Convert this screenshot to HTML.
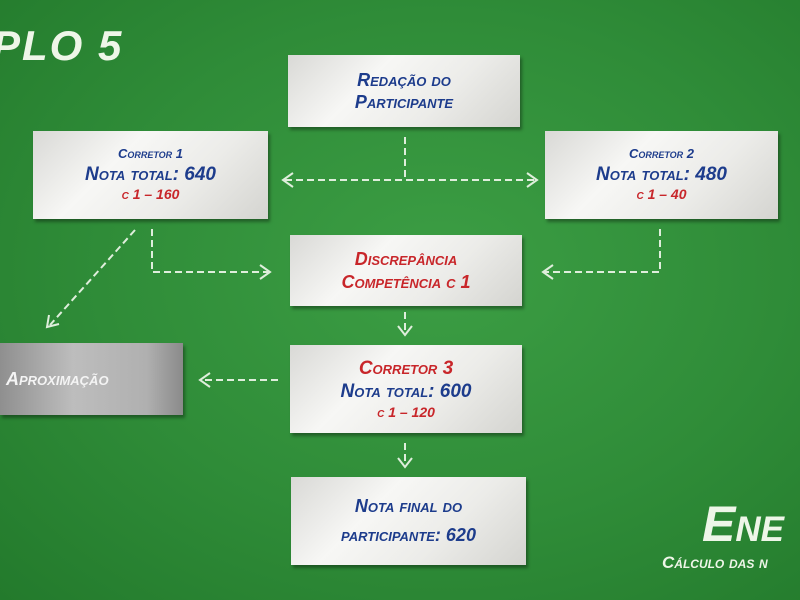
<!DOCTYPE html>
<html><head><meta charset="utf-8"><style>
html,body{margin:0;padding:0}
body{width:800px;height:600px;overflow:hidden;position:relative;background:radial-gradient(ellipse at 55% 45%,#3c9e44 0%,#2f8c38 55%,#237a2c 100%);font-family:"Liberation Sans",sans-serif}
.b{position:absolute;background:linear-gradient(135deg,#d9d9d6 0%,#f7f7f5 35%,#ecece9 65%,#d4d4d0 100%);box-shadow:2px 3px 3px rgba(0,0,0,.35);display:flex;flex-direction:column;align-items:center;justify-content:center;font-style:italic;font-weight:bold;font-variant:small-caps;text-align:center;line-height:1.25}
.u{color:#1d3c8c}.r{color:#c8262a}
.t{position:absolute;color:#eef6e8;font-weight:bold;font-style:italic;font-variant:small-caps}
</style></head><body>
<div class="t" style="left:-8px;top:22px;font-size:42px;letter-spacing:2px">PLO 5</div>
<div class="t" style="left:702px;top:495px;font-size:50px">Ene</div>
<div class="t" style="left:662px;top:553px;font-size:17px">Cálculo das n</div>

<svg width="800" height="600" style="position:absolute;left:0;top:0" fill="none" stroke="#dfeedc" stroke-width="2">
<g stroke-dasharray="7,4">
<path d="M405 137V180M285 180H535"/>
<path d="M152 229V272H268"/>
<path d="M660 229V272H545"/>
<path d="M135 230L50 325"/>
<path d="M405 312V332"/>
<path d="M278 380H203"/>
<path d="M405 443V463"/>
</g>
<path d="M293 173L283 180L293 187M527 173L537 180L527 187M260 265L270 272L260 279M553 265L543 272L553 279M49 315L47 327L59 324M398 326L405 335L412 326M210 373L200 380L210 387M398 458L405 467L412 458"/>
</svg>

<div class="b" style="left:288px;top:55px;width:232px;height:72px;font-size:18px"><div class="u">Redação do</div><div class="u">Participante</div></div>
<div class="b" style="left:33px;top:131px;width:235px;height:88px"><div class="u" style="font-size:13px">Corretor 1</div><div class="u" style="font-size:19px">Nota total: 640</div><div class="r" style="font-size:14px">c 1 – 160</div></div>
<div class="b" style="left:545px;top:131px;width:233px;height:88px"><div class="u" style="font-size:13px">Corretor 2</div><div class="u" style="font-size:19px">Nota total: 480</div><div class="r" style="font-size:14px">c 1 – 40</div></div>
<div class="b" style="left:290px;top:235px;width:232px;height:71px;font-size:18px"><div class="r">Discrepância</div><div class="r">Competência c 1</div></div>
<div class="b" style="left:290px;top:345px;width:232px;height:88px"><div class="r" style="font-size:19px">Corretor 3</div><div class="u" style="font-size:19px">Nota total: 600</div><div class="r" style="font-size:14px">c 1 – 120</div></div>
<div class="b" style="left:0;top:343px;width:183px;height:72px;background:linear-gradient(90deg,#8f8f8f,#bdbdbd 40%,#b0b0b0 80%,#8a8a8a);color:#f4f4f4;font-size:18px;align-items:flex-start;padding-left:6px;box-sizing:border-box">Aproximação</div>
<div class="b" style="left:291px;top:477px;width:235px;height:88px;font-size:18px;line-height:1.6"><div class="u">Nota final do</div><div class="u">participante: 620</div></div>
</body></html>
